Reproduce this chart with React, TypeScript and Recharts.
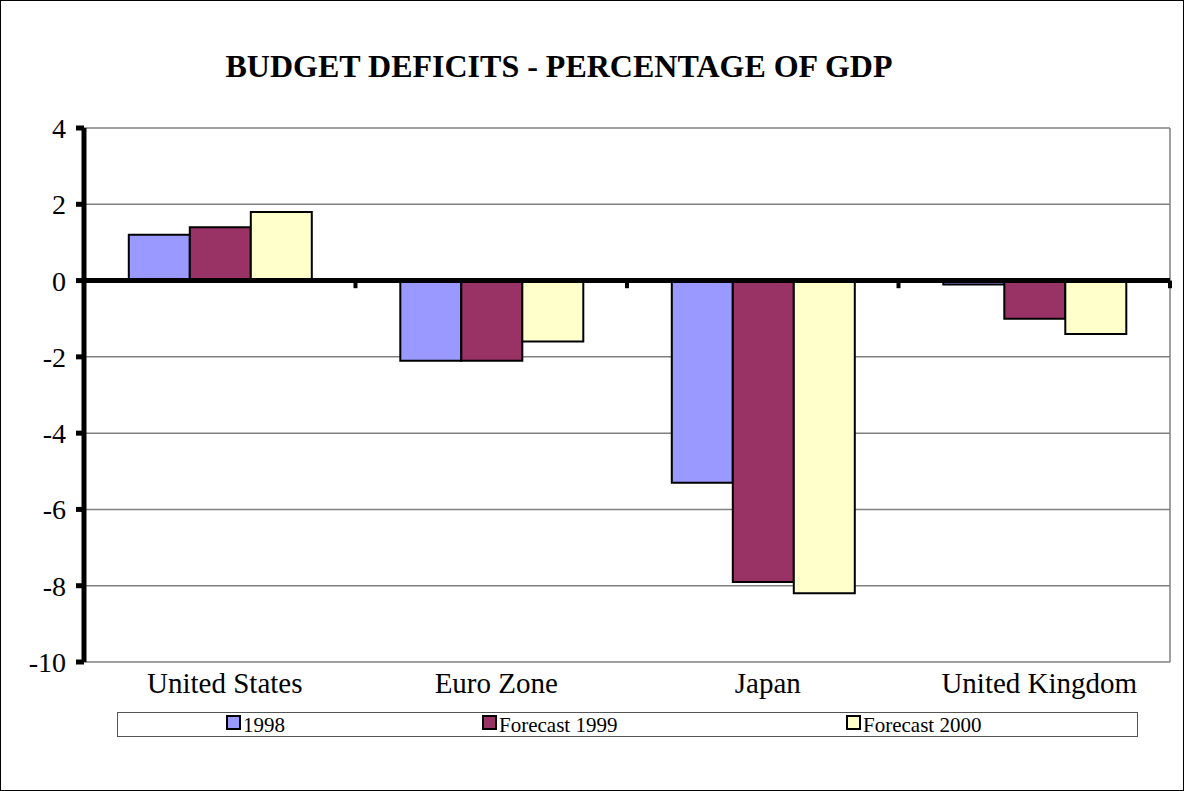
import { BarChart, Bar, XAxis, YAxis, CartesianGrid, ReferenceLine, Legend } from 'recharts';

const regions = ['United States', 'Euro Zone', 'Japan', 'United Kingdom'];
const actual1998 = [1.2, -2.1, -5.3, -0.1];
const forecast1999 = [1.4, -2.1, -7.9, -1.0];
const forecast2000 = [1.8, -1.6, -8.2, -1.4];
const yTicks = [4, 2, 0, -2, -4, -6, -8, -10];

const seriesList = [
  { key: 'y1998', name: '1998', color: '#9999FF' },
  { key: 'y1999', name: 'Forecast 1999', color: '#993366' },
  { key: 'y2000', name: 'Forecast 2000', color: '#FFFFCC' },
];

const data = regions.map((region, i) => ({
  region,
  y1998: actual1998[i],
  y1999: forecast1999[i],
  y2000: forecast2000[i],
}));

const FONT = '"Liberation Serif", "Times New Roman", serif';

function LegendBox() {
  const lefts = [108, 364, 728];
  return (
    <div
      style={{
        position: 'relative',
        width: 1021,
        height: 25,
        border: '1px solid #555',
        boxSizing: 'border-box',
        background: '#fff',
        fontFamily: FONT,
        fontSize: 21,
      }}
    >
      {seriesList.map((s, i) => (
        <div
          key={s.key}
          style={{ position: 'absolute', left: lefts[i], top: 1, display: 'flex', alignItems: 'flex-end', lineHeight: '22px' }}
        >
          <span
            style={{
              display: 'inline-block',
              width: 11,
              height: 11,
              background: s.color,
              border: '2px solid #000',
              marginRight: 2,
              marginBottom: 6,
            }}
          />
          <span>{s.name}</span>
        </div>
      ))}
    </div>
  );
}

export default function App() {
  return (
    <div
      style={{
        position: 'absolute',
        left: 0,
        top: 0,
        width: 1184,
        height: 791,
        border: '1px solid #000',
        boxSizing: 'border-box',
        background: '#fff',
        fontFamily: FONT,
      }}
    >
      <div
        style={{
          position: 'absolute',
          left: 0,
          width: 1116,
          top: 47,
          textAlign: 'center',
          fontSize: 32,
          fontWeight: 'bold',
          lineHeight: '36px',
        }}
      >
        BUDGET DEFICITS - PERCENTAGE OF GDP
      </div>
      <div style={{ position: 'absolute', left: -1, top: -1 }}>
        <BarChart
          width={1184}
          height={791}
          data={data}
          margin={{ top: 128, right: 14, bottom: 99, left: 0 }}
          barCategoryGap="16.5%"
          barGap={0}
        >
          <CartesianGrid vertical={false} stroke="#808080" strokeWidth={1.5} />
          <XAxis
            dataKey="region"
            axisLine={false}
            tickLine={false}
            height={30}
            tickMargin={4}
            tick={{ fill: '#000', fontSize: 29, fontFamily: FONT, dx: 5 }}
          />
          <YAxis
            domain={[-10, 4]}
            ticks={yTicks}
            interval={0}
            width={84}
            axisLine={{ stroke: '#000', strokeWidth: 5 }}
            tickLine={{ stroke: '#000', strokeWidth: 5 }}
            tickSize={8}
            tickMargin={10}
            tick={{ fill: '#000', fontSize: 28, fontFamily: FONT }}
          />
          <ReferenceLine x="United Kingdom" position="end" stroke="#808080" strokeWidth={1.5} />
          {seriesList.map((s) => (
            <Bar
              key={s.key}
              dataKey={s.key}
              name={s.name}
              fill={s.color}
              stroke="#000"
              strokeWidth={2}
              isAnimationActive={false}
            />
          ))}
          <ReferenceLine y={0} stroke="#000" strokeWidth={5} />
          {regions.slice(1).map((r) => (
            <ReferenceLine
              key={r}
              position="start"
              segment={[{ x: r, y: 0 }, { x: r, y: -0.2 }]}
              stroke="#000"
              strokeWidth={4}
            />
          ))}
          <ReferenceLine
            position="end"
            segment={[{ x: regions[3], y: 0 }, { x: regions[3], y: -0.2 }]}
            stroke="#000"
            strokeWidth={4}
          />
          <Legend
            layout="horizontal"
            verticalAlign="middle"
            align="center"
            wrapperStyle={{ position: 'absolute', left: 117, top: 712, width: 1021, height: 25 }}
            content={() => <LegendBox />}
          />
        </BarChart>
      </div>
    </div>
  );
}
